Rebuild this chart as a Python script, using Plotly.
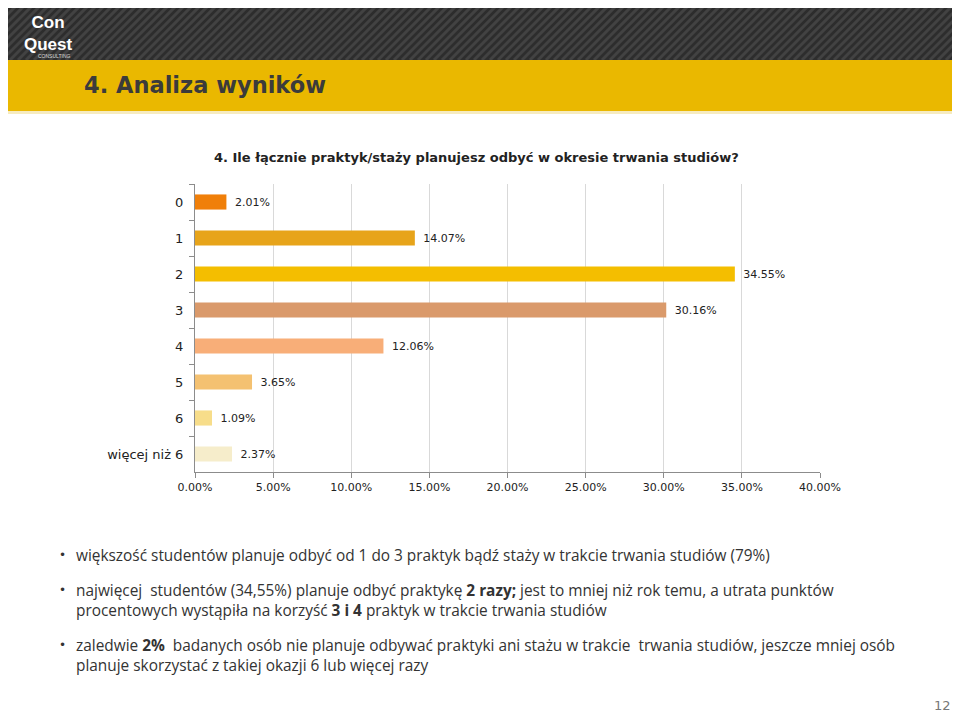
import plotly.graph_objects as go

categories = ["0", "1", "2", "3", "4", "5", "6", "więcej niż 6"]
values = [2.01, 14.07, 34.55, 30.16, 12.06, 3.65, 1.09, 2.37]
bar_colors = ["#F07F09", "#E7A41A", "#F4BE00", "#DA9A6B", "#F8AE78", "#F4C171", "#F7DD8A", "#F6EDCB"]
x_ticks = [0, 5, 10, 15, 20, 25, 30, 35, 40]
x_tick_labels = ["0.00%", "5.00%", "10.00%", "15.00%", "20.00%", "25.00%", "30.00%", "35.00%", "40.00%"]

# the page places the figure 8px from the top-left corner of the window
OFF = 8
PW, PH = 960, 714              # window size (page pixels)
W, H = PW - OFF, PH - OFF      # figure size
L, R, T, B = 195, 820, 184, 472  # plot area in page pixels

def px(x):
    return (x - L) / (R - L)

def py(y):
    return (B - y) / (B - T)

fig = go.Figure()
fig.add_trace(go.Bar(
    y=categories, x=values, orientation="h",
    marker=dict(color=bar_colors, line=dict(width=0)),
    width=0.42,
    text=[f"\u2002{v:.2f}%" for v in values], textposition="outside",
    textfont=dict(family="DejaVu Sans", size=11, color="#222222"),
    cliponaxis=False, hoverinfo="skip",
))

shapes = []
# dark striped header
shapes.append(dict(type="rect", xref="paper", yref="paper", x0=px(0), x1=px(PW), y0=py(0), y1=py(60),
                   fillcolor="#2D2D2D", line=dict(width=0), layer="below"))
segs = []
for k in range(-70, PW + 10, 8):
    segs.append(f"M{px(k)},{py(60)} L{px(k + 60)},{py(0)}")
shapes.append(dict(type="path", xref="paper", yref="paper", path=" ".join(segs),
                   line=dict(color="#424242", width=3), layer="below"))
# yellow band
shapes.append(dict(type="rect", xref="paper", yref="paper", x0=px(0), x1=px(PW), y0=py(60), y1=py(111),
                   fillcolor="#EAB800", line=dict(width=0), layer="below"))
shapes.append(dict(type="rect", xref="paper", yref="paper", x0=px(0), x1=px(PW), y0=py(111), y1=py(114),
                   fillcolor="#F6EBC0", line=dict(width=0), layer="below"))

annotations = []
def ann(x, y, text, size, color="#333333", family="DejaVu Sans", xanchor="left", yanchor="middle", align="left"):
    annotations.append(dict(x=px(x), y=py(y), xref="paper", yref="paper", text=text, showarrow=False,
                            xanchor=xanchor, yanchor=yanchor, align=align,
                            font=dict(size=size, color=color, family=family)))

# logo
ann(48, 33, "<b>Con</b><br><b>Quest</b>", 17, "#FFFFFF", "Liberation Sans Narrow, Liberation Sans",
    xanchor="center", align="center")
ann(36, 56, "CONSULTING", 5, "#DDDDDD", "Liberation Sans")
# slide title
ann(82, 85, "<b>4. Analiza wyników</b>", 22.5, "#3B3B3B")
# chart title
ann(212, 157, "<b>4. Ile łącznie praktyk/staży planujesz odbyć w okresie trwania studiów?</b>", 13, "#222222")

bullets = [
    (555, ["większość studentów planuje odbyć od 1 do 3 praktyk bądź staży w trakcie trwania studiów (79%)"]),
    (590, ["najwięcej  studentów (34,55%) planuje odbyć praktykę <b>2 razy;</b> jest to mniej niż rok temu, a utrata punktów",
           "procentowych wystąpiła na korzyść <b>3 i 4</b> praktyk w trakcie trwania studiów"]),
    (645, ["zaledwie <b>2%</b>  badanych osób nie planuje odbywać praktyki ani stażu w trakcie  trwania studiów, jeszcze mniej osób",
           "planuje skorzystać z takiej okazji 6 lub więcej razy"]),
]
for y0, lines in bullets:
    ann(57, y0, "•", 12, "#333333")
    centre = y0 + 10 * (len(lines) - 1)
    ann(74, centre, "<br>".join(lines), 15.4, "#333333", "Open Sans")

ann(953, 705, "12", 13, "#777777", "DejaVu Sans", xanchor="right")

fig.update_layout(
    width=W, height=H,
    margin=dict(l=L - OFF, r=PW - R, t=T - OFF, b=PH - B, pad=0),
    paper_bgcolor="#FFFFFF", plot_bgcolor="#FFFFFF",
    showlegend=False,
    shapes=shapes, annotations=annotations,
    xaxis=dict(range=[0, 40], tickvals=x_ticks, ticktext=x_tick_labels,
               showgrid=True, gridcolor="#D9D9D9", gridwidth=1,
               showline=True, linecolor="#8C8C8C", linewidth=1,
               ticks="outside", ticklen=5, tickcolor="#8C8C8C",
               tickfont=dict(family="DejaVu Sans", size=11, color="#222222"),
               zeroline=False, fixedrange=True),
    yaxis=dict(categoryorder="array", categoryarray=categories, autorange="reversed",
               showline=True, linecolor="#8C8C8C", linewidth=1,
               ticks="outside", ticklen=5, tickcolor="#8C8C8C", tickson="boundaries",
               tickfont=dict(family="DejaVu Sans", size=13, color="#222222"),
               showgrid=False, fixedrange=True, ticklabelstandoff=8),
    font=dict(family="DejaVu Sans"),
)

fig.write_html("out.html")
